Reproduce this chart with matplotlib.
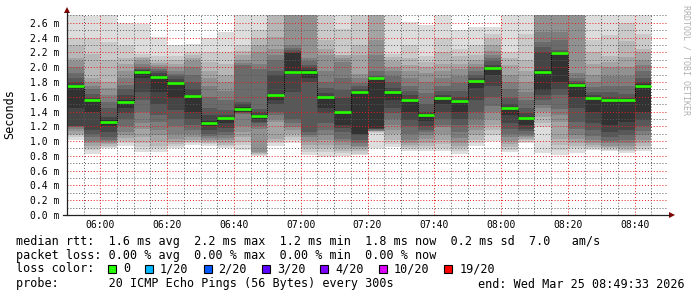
import matplotlib
matplotlib.use("Agg")
import matplotlib.pyplot as plt
from matplotlib.lines import Line2D
from matplotlib.patches import Polygon, Rectangle
from matplotlib.ticker import MultipleLocator, FixedLocator

W, H = 697, 297
MONO = "DejaVu Sans Mono"

# 5-minute steps starting 05:50, x axis in minutes after 05:50
step_min = 5
span_min = 180
time_labels = ["06:00", "06:20", "06:40", "07:00", "07:20", "07:40", "08:00", "08:20", "08:40"]

# median rtt per step (ms)
medians = [1.74, 1.55, 1.26, 1.53, 1.93, 1.87, 1.79, 1.61, 1.24, 1.31,
           1.44, 1.34, 1.62, 1.93, 1.94, 1.60, 1.39, 1.66, 1.85, 1.66,
           1.55, 1.36, 1.58, 1.54, 1.82, 1.99, 1.45, 1.31, 1.94, 2.19,
           1.76, 1.59, 1.56, 1.55, 1.75]

# sorted pings 1..10 per step (ms)
ping_lo = [
    [1.01, 1.05, 1.08, 1.10, 1.13, 1.16, 1.19, 1.20, 1.21, 1.45],
    [0.83, 0.88, 0.91, 0.94, 0.97, 1.00, 1.05, 1.10, 1.15, 1.40],
    [0.90, 0.92, 0.94, 0.96, 0.98, 1.00, 1.02, 1.05, 1.12, 1.20],
    [0.94, 0.97, 1.00, 1.04, 1.08, 1.12, 1.20, 1.30, 1.38, 1.45],
    [0.85, 0.92, 0.98, 1.05, 1.17, 1.25, 1.40, 1.55, 1.67, 1.85],
    [0.85, 0.90, 0.94, 1.00, 1.08, 1.15, 1.26, 1.35, 1.50, 1.67],
    [0.90, 0.93, 0.96, 0.99, 1.03, 1.10, 1.20, 1.30, 1.42, 1.58],
    [0.95, 0.97, 0.99, 1.02, 1.05, 1.10, 1.15, 1.22, 1.30, 1.40],
    [0.94, 0.96, 0.98, 1.00, 1.02, 1.04, 1.07, 1.10, 1.15, 1.20],
    [0.90, 0.93, 0.95, 0.98, 1.01, 1.04, 1.08, 1.12, 1.18, 1.25],
    [0.88, 0.95, 0.99, 1.05, 1.12, 1.20, 1.37, 1.38, 1.39, 1.40],
    [0.80, 0.81, 0.83, 0.84, 0.85, 1.17, 1.20, 1.24, 1.26, 1.30],
    [0.93, 0.97, 1.00, 1.03, 1.26, 1.30, 1.35, 1.40, 1.50, 1.55],
    [0.98, 1.01, 1.05, 1.10, 1.15, 1.19, 1.25, 1.30, 1.67, 1.91],
    [0.81, 0.85, 0.90, 0.95, 1.00, 1.05, 1.08, 1.12, 1.80, 1.85],
    [0.79, 0.85, 0.90, 0.95, 1.01, 1.08, 1.15, 1.25, 1.38, 1.45],
    [0.80, 0.84, 0.87, 0.90, 0.95, 1.00, 1.03, 1.12, 1.18, 1.22],
    [0.81, 0.83, 0.86, 0.89, 0.92, 0.94, 0.98, 1.02, 1.08, 1.10],
    [0.90, 1.11, 1.12, 1.13, 1.13, 1.14, 1.15, 1.16, 1.17, 1.18],
    [0.92, 0.96, 1.02, 1.10, 1.15, 1.22, 1.30, 1.38, 1.45, 1.55],
    [0.86, 0.89, 0.92, 0.95, 0.98, 1.02, 1.10, 1.20, 1.28, 1.40],
    [0.86, 0.90, 0.94, 0.98, 1.03, 1.08, 1.12, 1.15, 1.20, 1.27],
    [0.86, 0.90, 0.96, 1.02, 1.10, 1.19, 1.22, 1.30, 1.40, 1.50],
    [0.82, 0.86, 0.90, 0.94, 0.98, 1.04, 1.12, 1.22, 1.30, 1.40],
    [0.93, 0.97, 1.02, 1.08, 1.15, 1.22, 1.30, 1.40, 1.55, 1.72],
    [1.00, 1.08, 1.15, 1.22, 1.30, 1.40, 1.48, 1.60, 1.75, 1.90],
    [0.85, 0.88, 0.92, 0.96, 1.00, 1.05, 1.10, 1.17, 1.25, 1.35],
    [0.97, 0.99, 1.01, 1.03, 1.05, 1.07, 1.10, 1.13, 1.17, 1.22],
    [0.84, 1.19, 1.25, 1.32, 1.40, 1.45, 1.49, 1.55, 1.62, 1.69],
    [0.81, 0.88, 0.95, 1.03, 1.26, 1.35, 1.44, 1.62, 1.70, 1.80],
    [0.84, 0.90, 0.94, 0.98, 1.03, 1.08, 1.17, 1.26, 1.45, 1.60],
    [0.88, 0.90, 0.92, 0.95, 0.98, 1.02, 1.07, 1.15, 1.25, 1.40],
    [0.86, 0.88, 0.90, 0.92, 0.94, 0.97, 1.00, 1.05, 1.12, 1.22],
    [0.84, 0.86, 0.88, 0.91, 0.94, 0.98, 1.02, 1.08, 1.15, 1.26],
    [0.86, 0.89, 0.93, 0.97, 1.02, 1.08, 1.14, 1.20, 1.28, 1.40],
]

# sorted pings 11..20 per step (ms)
ping_hi = [
    [1.76, 1.80, 1.86, 1.92, 2.00, 2.09, 2.13, 2.30, 2.40, 2.71],
    [1.55, 1.58, 1.64, 1.70, 1.75, 1.80, 1.85, 2.18, 2.40, 2.69],
    [1.28, 1.32, 1.45, 1.53, 1.62, 1.72, 1.80, 2.10, 2.34, 2.70],
    [1.55, 1.62, 1.70, 1.76, 1.85, 1.95, 2.05, 2.12, 2.30, 2.60],
    [1.94, 1.96, 1.98, 2.00, 2.04, 2.08, 2.12, 2.14, 2.18, 2.58],
    [1.89, 1.92, 1.95, 1.98, 2.00, 2.03, 2.06, 2.09, 2.15, 2.41],
    [1.80, 1.84, 1.88, 1.91, 1.95, 2.00, 2.05, 2.10, 2.15, 2.30],
    [1.63, 1.70, 1.80, 1.90, 2.00, 2.08, 2.13, 2.16, 2.20, 2.32],
    [1.27, 1.35, 1.45, 1.60, 1.75, 1.85, 1.95, 2.07, 2.20, 2.40],
    [1.32, 1.36, 1.42, 1.55, 1.68, 1.80, 1.90, 2.05, 2.20, 2.48],
    [1.46, 1.50, 1.53, 2.03, 2.06, 2.10, 2.16, 2.22, 2.30, 2.70],
    [1.35, 1.40, 1.44, 1.98, 2.05, 2.21, 2.30, 2.39, 2.50, 2.70],
    [1.64, 1.89, 1.95, 2.10, 2.16, 2.25, 2.41, 2.70, 2.70, 2.70],
    [2.19, 2.21, 2.23, 2.26, 2.30, 2.70, 2.70, 2.70, 2.70, 2.70],
    [1.96, 2.00, 2.03, 2.08, 2.12, 2.70, 2.70, 2.70, 2.70, 2.70],
    [1.60, 1.65, 1.72, 1.80, 1.95, 2.16, 2.25, 2.37, 2.70, 2.70],
    [1.40, 1.58, 1.69, 1.85, 2.07, 2.12, 2.16, 2.17, 2.52, 2.70],
    [1.67, 1.70, 1.74, 1.78, 1.85, 1.91, 2.16, 2.30, 2.70, 2.70],
    [1.86, 1.87, 1.88, 1.95, 2.16, 2.37, 2.70, 2.70, 2.70, 2.70],
    [1.67, 1.72, 1.80, 1.88, 1.95, 2.00, 2.08, 2.14, 2.18, 2.70],
    [1.57, 1.62, 1.68, 1.75, 1.85, 1.95, 2.03, 2.12, 2.30, 2.61],
    [1.37, 1.40, 1.50, 1.65, 1.80, 1.92, 2.00, 2.07, 2.15, 2.57],
    [1.59, 1.63, 1.68, 1.75, 1.85, 1.95, 2.05, 2.20, 2.39, 2.70],
    [1.55, 1.60, 1.68, 1.78, 1.88, 1.98, 2.05, 2.15, 2.25, 2.50],
    [1.82, 1.86, 1.90, 1.95, 2.00, 2.05, 2.10, 2.16, 2.30, 2.55],
    [2.00, 2.03, 2.08, 2.12, 2.17, 2.22, 2.30, 2.38, 2.45, 2.54],
    [1.46, 1.50, 1.58, 1.70, 1.80, 1.90, 2.03, 2.12, 2.21, 2.70],
    [1.32, 1.38, 1.45, 1.55, 1.67, 1.80, 1.95, 2.10, 2.45, 2.70],
    [1.96, 2.21, 2.27, 2.34, 2.48, 2.70, 2.70, 2.70, 2.70, 2.70],
    [2.20, 2.21, 2.23, 2.37, 2.48, 2.70, 2.70, 2.70, 2.70, 2.70],
    [1.77, 1.79, 1.82, 1.86, 1.92, 2.70, 2.70, 2.70, 2.70, 2.70],
    [1.60, 1.63, 1.67, 1.73, 1.80, 1.90, 2.05, 2.20, 2.37, 2.70],
    [1.57, 1.60, 1.66, 1.75, 1.88, 2.00, 2.07, 2.15, 2.43, 2.70],
    [1.55, 1.58, 1.64, 1.75, 1.88, 2.00, 2.14, 2.35, 2.60, 2.70],
    [1.77, 1.80, 1.86, 1.95, 2.03, 2.10, 2.20, 2.25, 2.45, 2.70],
]

loss_labels = ["0", "1/20", "2/20", "3/20", "4/20", "10/20", "19/20"]
loss_colors = ["#26ff00", "#00b8ff", "#0059ff", "#5e00ff", "#7e00ff", "#dd00ff", "#ff0000"]

stats_line = "median rtt:  1.6 ms avg  2.2 ms max  1.2 ms min  1.8 ms now  0.2 ms sd  7.0   am/s"
loss_line = "packet loss: 0.00 % avg  0.00 % max  0.00 % min  0.00 % now"
probe_line = "probe:       20 ICMP Echo Pings (56 Bytes) every 300s"
end_line = "end: Wed Mar 25 08:49:33 2026"


def fx(x):
    return x / W


def fy(y):
    return 1 - y / H


fig = plt.figure(figsize=(W / 100, H / 100), dpi=100)
fig.patch.set_facecolor("white")
ax = fig.add_axes([fx(67), fy(215), (668 - 67) / W, (215 - 14) / H])

# smoke: outer pings lightest, inner darkest (smokeping smokecol)
half = 10
for i, (lo, hi) in enumerate(zip(ping_lo, ping_hi)):
    x0 = i * step_min
    for k in range(half):
        g = int(190 / half * (half - (k + 1))) + 50
        col = "#%02x%02x%02x" % (g, g, g)
        bottom = lo[k]
        top = hi[half - 1 - k]
        ax.bar(x0, top - bottom, width=step_min, bottom=bottom, align="edge",
               color=col, linewidth=0, zorder=1)

# median: dotted step connector + green segments
xs = [i * step_min for i in range(len(medians))]
ax.step(xs + [xs[-1] + step_min], medians + [medians[-1]], where="post",
        color="black", lw=0.7, ls=(0, (1, 1)), zorder=4)
ax.hlines(medians, xs, [x + step_min for x in xs], color=loss_colors[0],
          lw=1.9, zorder=5)

ax.set_xlim(0, span_min)
ax.set_ylim(0, 2.72)
ax.xaxis.set_major_locator(FixedLocator([10 + 20 * j for j in range(len(time_labels))]))
ax.set_xticklabels(time_labels)
ax.xaxis.set_minor_locator(MultipleLocator(5))
ax.yaxis.set_major_locator(MultipleLocator(0.2))
ax.yaxis.set_minor_locator(MultipleLocator(0.1))
ax.yaxis.set_major_formatter(plt.FuncFormatter(lambda v, p: "%.1f m" % v))

ax.set_axisbelow(False)
ax.grid(which="major", color=(0.9, 0.1, 0.1, 0.24), lw=0.7, ls=(0, (1, 2)))
ax.grid(which="minor", color=(0.35, 0.35, 0.35, 0.22), lw=0.7, ls=(0, (1, 2)))
ax.tick_params(which="both", length=0)
ax.tick_params(axis="y", pad=5.8, labelsize=7)
ax.tick_params(axis="x", pad=3.5, labelsize=7)
for lab in ax.get_xticklabels() + ax.get_yticklabels():
    lab.set_fontfamily(MONO)
for s in ax.spines.values():
    s.set_visible(False)

# axis lines with arrows
fig.add_artist(Line2D([fx(67), fx(67)], [fy(215), fy(12)], color="#222222", lw=0.9))
fig.add_artist(Line2D([fx(63), fx(669)], [fy(215), fy(215)], color="#222222", lw=0.9))
fig.add_artist(Polygon([[fx(64), fy(13)], [fx(70), fy(13)], [fx(67), fy(7)]],
                       closed=True, color="#7f0000", lw=0))
fig.add_artist(Polygon([[fx(669), fy(212)], [fx(669), fy(218)], [fx(675), fy(215)]],
                       closed=True, color="#7f0000", lw=0))

fig.text(fx(10), fy(114), "Seconds", rotation=90, ha="center", va="center",
         family=MONO, fontsize=8.5)
fig.text(fx(686), fy(5), "RRDTOOL / TOBI OETIKER", rotation=-90, ha="center", va="top",
         family=MONO, fontsize=6, color="#b0b0b0")

fs = 8.5
fig.text(fx(16), fy(241), stats_line, family=MONO, fontsize=fs, va="center")
fig.text(fx(16), fy(255), loss_line, family=MONO, fontsize=fs, va="center")
fig.text(fx(16), fy(269), "loss color:", family=MONO, fontsize=fs, va="center")
fig.text(fx(16), fy(284), probe_line, family=MONO, fontsize=fs, va="center")
fig.text(fx(478), fy(284), end_line, family=MONO, fontsize=fs, va="center")

cw = 7.1
bx = 108
for lab, col in zip(loss_labels, loss_colors):
    fig.add_artist(Rectangle((fx(bx), fy(273)), 8 / W, 8 / H, facecolor=col,
                             edgecolor="black", lw=0.8))
    fig.text(fx(bx + 15), fy(269), lab, family=MONO, fontsize=fs, va="center")
    bx += 15 + cw * len(lab) + 15

fig.savefig("out.png", dpi=100)
